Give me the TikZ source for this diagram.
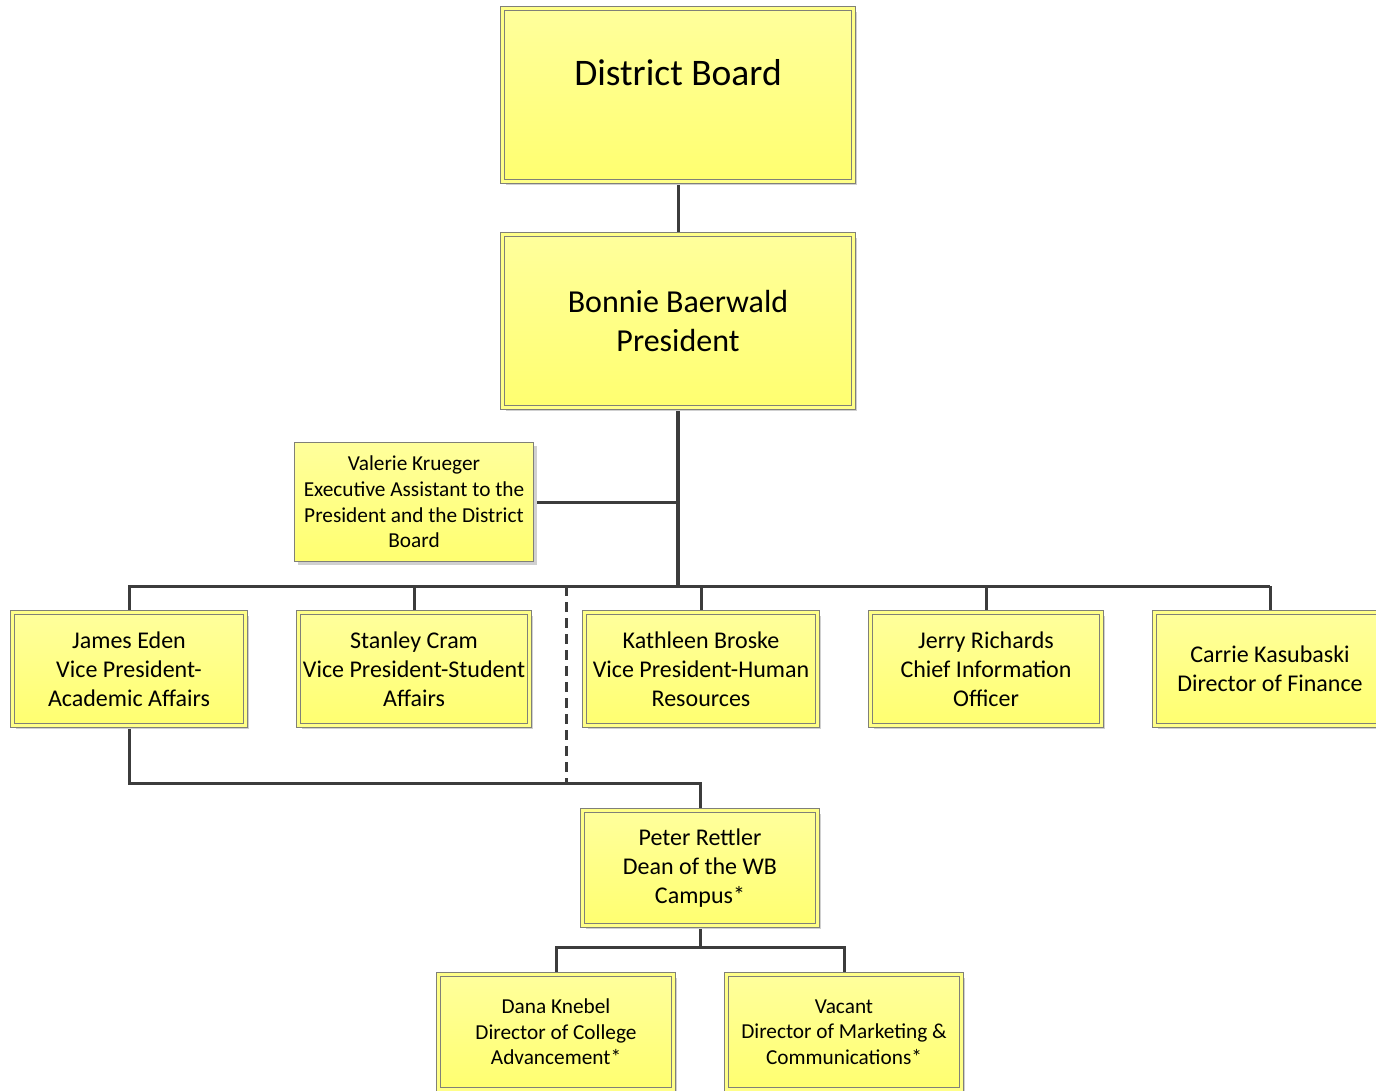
\documentclass[tikz,border=0pt]{standalone}
\usepackage{fontspec}
\setmainfont{Carlito}
\usetikzlibrary{shadows,backgrounds}
\definecolor{ylTop}{HTML}{FFFF9C}
\definecolor{ylBot}{HTML}{FFFF70}
\definecolor{ylMid}{HTML}{FFFF88}
\definecolor{bdr}{HTML}{808078}
\definecolor{conncol}{HTML}{3C3C3C}
\definecolor{shd}{HTML}{D0D0D0}
\tikzset{
  orgbox/.style={rectangle, top color=ylTop, bottom color=ylBot, draw=bdr,
    line width=1.1pt, double=ylMid, double distance=3pt, inner sep=0pt, outer sep=0pt,
    align=center, text=black,
    drop shadow={shadow xshift=3pt, shadow yshift=-3pt, fill=shd, opacity=1}},
  plainbox/.style={rectangle, top color=ylTop, bottom color=ylBot, draw=bdr,
    line width=1.3pt, inner sep=0pt, outer sep=0pt, align=center, text=black,
    drop shadow={shadow xshift=3pt, shadow yshift=-3pt, fill=shd, opacity=1}},
  hugefont/.style={font=\fontsize{37.5}{45}\selectfont},
  bigfont/.style={font=\fontsize{32}{39}\selectfont},
  midfont/.style={font=\fontsize{24}{29}\selectfont},
  smallfont/.style={font=\fontsize{21.3}{25.6}\selectfont},
  conn/.style={draw=conncol, line width=3pt},
  trunk/.style={draw=conncol, line width=3.8pt},
  dashconn/.style={draw=conncol, line width=3pt, dash pattern=on 10pt off 6pt},
}
\begin{document}
\begin{tikzpicture}[x=1pt,y=-1pt]
\useasboundingbox (0,0) rectangle (1376,1090);
% boxes
\node[orgbox, minimum width=351pt, minimum height=173pt] (db) at (678,95) {};
\node[hugefont] (dbt) at (678,73) {District Board};
\node[orgbox, bigfont, minimum width=351pt, minimum height=173pt] (pres) at (678,321) {Bonnie Baerwald\\President};
\node[plainbox, smallfont, minimum width=239pt, minimum height=119pt] (val) at (414,502) {Valerie Krueger\\Executive Assistant to the\\President and the District\\Board};
\node[orgbox, midfont, minimum width=233pt, minimum height=113pt] (james) at (129,669) {James Eden\\Vice President-\\Academic Affairs};
\node[orgbox, midfont, minimum width=231pt, minimum height=113pt] (stanley) at (414,669) {Stanley Cram\\Vice President-Student\\Affairs};
\node[orgbox, midfont, minimum width=233pt, minimum height=113pt] (kath) at (701,669) {Kathleen Broske\\Vice President-Human\\Resources};
\node[orgbox, midfont, minimum width=231pt, minimum height=113pt] (jerry) at (986,669) {Jerry Richards\\Chief Information\\Officer};
\node[orgbox, midfont, minimum width=231pt, minimum height=113pt] (carrie) at (1270,669) {Carrie Kasubaski\\Director of Finance};
\node[orgbox, midfont, minimum width=235pt, minimum height=115pt] (peter) at (700,868) {Peter Rettler\\Dean of the WB\\Campus*};
\node[orgbox, smallfont, minimum width=235pt, minimum height=115pt] (dana) at (556,1032) {Dana Knebel\\Director of College\\Advancement*};
\node[orgbox, smallfont, minimum width=235pt, minimum height=115pt] (vacant) at (844,1032) {Vacant\\Director of Marketing \&\\Communications*};
% connectors
\coordinate (busL) at (128,586);
\coordinate (busR) at (1270,586);
\coordinate (pj) at (700,783);
\coordinate (dashTop) at (566,586);
\coordinate (dashBot) at (566,783);
\coordinate (pc) at (700,947);
\begin{scope}[on background layer]
\fill[white] (0,0) rectangle (1376,1090);
\draw[conn] (db.south) -- (pres.north);
\draw[trunk] (pres.south) -- (pres.south |- busL);
\draw[conn] (val.east) -- (val.east -| pres.south);
\draw[conn] (busL) -- (busR);
\draw[conn] (james.north) -- (james.north |- busL);
\draw[conn] (stanley.north) -- (stanley.north |- busL);
\draw[conn] (kath.north) -- (kath.north |- busL);
\draw[conn] (jerry.north) -- (jerry.north |- busL);
\draw[conn] (carrie.north) -- (carrie.north |- busL);
\draw[conn] (james.south) |- (pj) -- (peter.north);
\draw[dashconn] (dashTop) -- (dashBot);
\draw[conn] (peter.south) -- (pc);
\draw[conn] (dana.north) |- (pc) -| (vacant.north);
\end{scope}
\end{tikzpicture}
\end{document}
